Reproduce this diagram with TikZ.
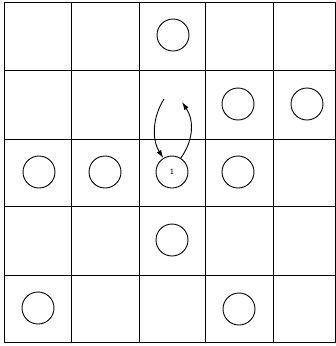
\documentclass[tikz,border=0pt]{standalone}
\usetikzlibrary{arrows.meta}
\begin{document}
\begin{tikzpicture}[x=1pt,y=-1pt,
  gridline/.style={line width=1pt,black},
  disc/.style={circle,draw,line width=0.9pt,minimum size=32pt,inner sep=0pt},
  flow/.style={line width=0.9pt,-{Latex[length=8pt,width=5pt]}}]
\useasboundingbox (0,0) rectangle (336,346);
\foreach \x in {4,71,139,205,273,335.5} \draw[gridline] (\x,2) -- (\x,342);
\foreach \y in {2,70,139,206,275,342} \draw[gridline] (4,\y) -- (335.5,\y);
\node[disc] (r0c2) at (173,35) {};
\node[disc] (r1c3) at (238,104) {};
\node[disc] (r1c4) at (307,104) {};
\node[disc] (r2c0) at (39,172) {};
\node[disc] (r2c1) at (105,172) {};
\node[disc,font=\sffamily\fontsize{8}{8}\selectfont] (m) at (172,172) {1};
\node[disc] (r2c3) at (238,172) {};
\node[disc] (r3c2) at (172,240) {};
\node[disc] (r4c0) at (38,308) {};
\node[disc] (r4c3) at (239,309) {};
\coordinate (a1) at (164,99);
\coordinate (a2) at (182,102);
\draw[flow] (a1) .. controls (152,118) and (152,140) .. (m.122);
\draw[flow] (m.58) .. controls (194,140) and (194,120) .. (a2);
\end{tikzpicture}
\end{document}
